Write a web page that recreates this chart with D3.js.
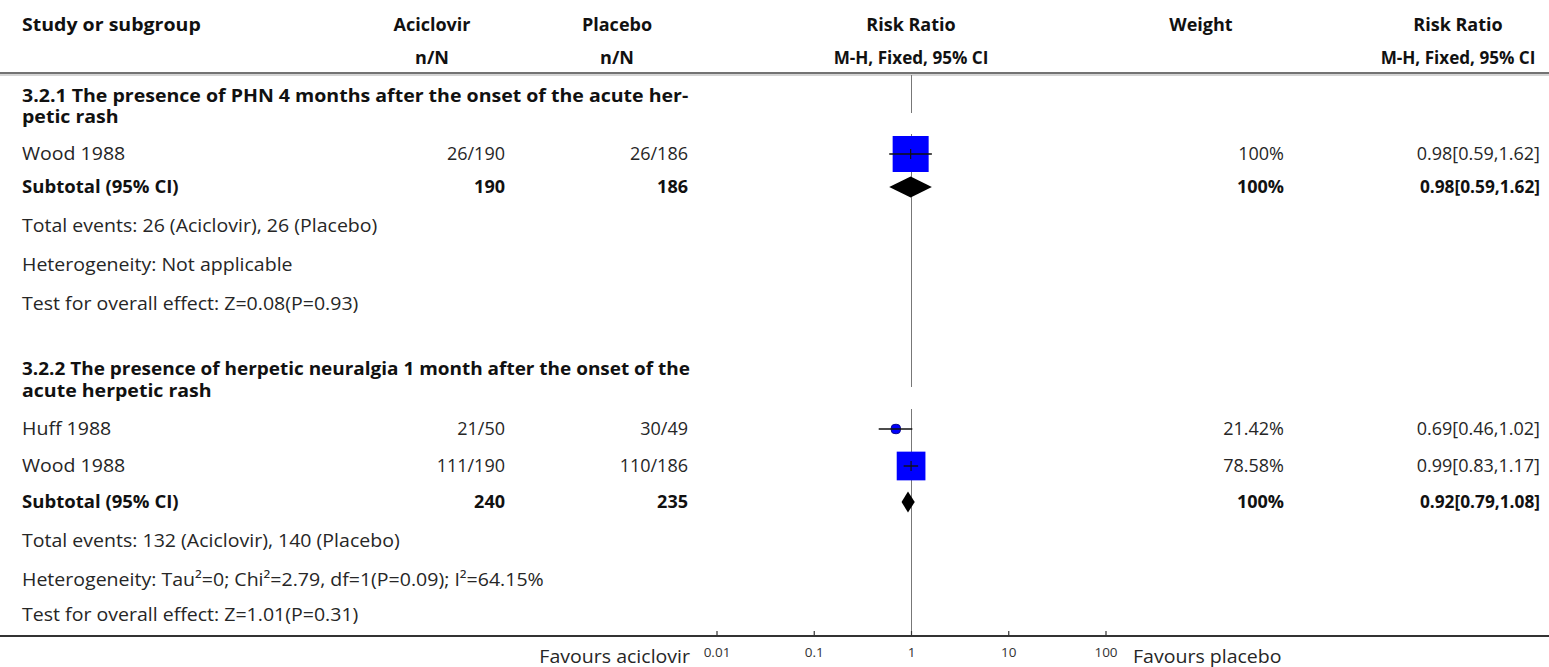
<!DOCTYPE html>
<html>
<head>
<meta charset="utf-8">
<script src="https://cdn.jsdelivr.net/npm/d3@7"></script>
<style>
  html, body { margin: 0; padding: 0; background: #fff; }
  svg { display: block; }
  text { font-family: "Open Sans", sans-serif; font-size: 18px; fill: #262626; }
  .b { font-weight: bold; fill: #111; }
</style>
</head>
<body>
<svg id="chart" width="1549" height="667"></svg>
<script>
// Column headings
const headTop = ["Study or subgroup", "Aciclovir", "Placebo", "Risk Ratio", "Weight", "Risk Ratio"];
const headSub = ["", "n/N", "n/N", "M-H, Fixed, 95% CI", "", "M-H, Fixed, 95% CI"];

// Subgroup titles (wrapped as in the table)
const groupTitles = [
  ["3.2.1 The presence of PHN 4 months after the onset of the acute her-", "petic rash"],
  ["3.2.2 The presence of herpetic neuralgia 1 month after the onset of the", "acute herpetic rash"]
];

// Individual studies
const studyGroup   = [0, 1, 1];
const studyNames   = ["Wood 1988", "Huff 1988", "Wood 1988"];
const aciEvents    = [26, 21, 111];
const aciTotal     = [190, 50, 190];
const plaEvents    = [26, 30, 110];
const plaTotal     = [186, 49, 186];
const studyRR      = [0.98, 0.69, 0.99];
const studyLo      = [0.59, 0.46, 0.83];
const studyHi      = [1.62, 1.02, 1.17];
const studyWeight  = [100, 21.42, 78.58];

// Subtotals per subgroup
const subAciTotal  = [190, 240];
const subPlaTotal  = [186, 235];
const subRR        = [0.98, 0.92];
const subLo        = [0.59, 0.79];
const subHi        = [1.62, 1.08];
const subWeight    = [100, 100];

// Summary notes under each subgroup
const groupNotes = [
  ["Total events: 26 (Aciclovir), 26 (Placebo)",
   "Heterogeneity: Not applicable",
   "Test for overall effect: Z=0.08(P=0.93)"],
  ["Total events: 132 (Aciclovir), 140 (Placebo)",
   "Heterogeneity: Tau\u00B2=0; Chi\u00B2=2.79, df=1(P=0.09); I\u00B2=64.15%",
   "Test for overall effect: Z=1.01(P=0.31)"]
];

// Axis
const axisTicks  = [0.01, 0.1, 1, 10, 100];
const favLeft    = "Favours aciclovir";
const favRight   = "Favours placebo";

// ---------------------------------------------------------------
const svg = d3.select("#chart");

// column anchors
const col = { study: 22, aciC: 432, aciR: 505, plaC: 617, plaR: 688, rrC: 911, wC: 1201, wR: 1284, ciC: 1458, ciR: 1540 };

const x = d3.scaleLog().domain([0.01, 100]).range([717, 1106]);
const boxSide = d3.scaleLinear().domain([0, 100]).range([2, 36]);

// vertical row layout
const rowY = {
  head1: 25, head2: 58, headLine: 73,
  groups: [
    { title: [96, 117], studies: [154], sub: 187, notes: [226, 265, 304] },
    { title: [369, 391], studies: [429, 466], sub: 502, notes: [541, 580, 615] }
  ],
  axis: 636
};

// label text is set slightly wider than the face's natural advance
const WIDE = 1.085;

function txt(xp, yp, s, anchor, cls, stretch, maxW) {
  const t = svg.append("text")
    .attr("x", xp).attr("y", yp).attr("dy", "0.35em")
    .attr("text-anchor", anchor || "start")
    .attr("class", cls || null)
    .text(s);
  if (stretch && stretch !== 1) {
    const w = t.node().getComputedTextLength();
    let target = w * stretch;
    if (maxW) target = Math.min(target, maxW);
    t.attr("textLength", target).attr("lengthAdjust", "spacingAndGlyphs");
  }
  return t;
}

// header
const headX = [col.study, col.aciC, col.plaC, col.rrC, col.wC, col.ciC];
headTop.forEach((h, i) => txt(headX[i], rowY.head1, h, i === 0 ? "start" : "middle", "b", i === 0 ? WIDE : 1));
headSub.forEach((h, i) => { if (h) txt(headX[i], rowY.head2, h, "middle", "b", h.length > 4 ? 0.95 : 1); });

svg.append("line").attr("x1", 0).attr("x2", 1549).attr("y1", rowY.headLine).attr("y2", rowY.headLine)
  .attr("stroke", "#444").attr("stroke-width", 1.6);
svg.append("line").attr("x1", 0).attr("x2", 1549).attr("y1", rowY.headLine + 2).attr("y2", rowY.headLine + 2)
  .attr("stroke", "#aaa").attr("stroke-width", 1);

// line of no effect, broken below each subgroup title
const nullX = x(1);
const segs = [];
let segStart = rowY.headLine + 2;
rowY.groups.forEach(g => {
  segs.push([segStart, g.title[1] - 4]);
  segStart = g.studies[0] - 20;
});
segs.push([segStart, rowY.axis]);
segs.forEach(s => {
  svg.append("line").attr("x1", nullX).attr("x2", nullX).attr("y1", s[0]).attr("y2", s[1])
    .attr("stroke", "#777").attr("stroke-width", 1);
});

// subgroup blocks; titles wrap within the study + count columns
const titleWidth = col.plaR + 2 - col.study;
groupTitles.forEach((lines, gi) => {
  const g = rowY.groups[gi];
  lines.forEach((l, li) => txt(col.study, g.title[li], l, "start", "b", WIDE, titleWidth));

  const idx = studyGroup.map((v, i) => v === gi ? i : -1).filter(i => i >= 0);
  idx.forEach((si, k) => {
    const y = g.studies[k];
    txt(col.study, y, studyNames[si], "start", null, WIDE);
    txt(col.aciR, y, `${aciEvents[si]}/${aciTotal[si]}`, "end");
    txt(col.plaR, y, `${plaEvents[si]}/${plaTotal[si]}`, "end");
    txt(col.wR, y, `${studyWeight[si]}%`, "end");
    txt(col.ciR, y, `${studyRR[si].toFixed(2)}[${studyLo[si].toFixed(2)},${studyHi[si].toFixed(2)}]`, "end");

    const side = boxSide(studyWeight[si]);
    const small = side < 12;
    svg.append("rect")
      .attr("x", x(studyRR[si]) - side / 2).attr("y", y - side / 2)
      .attr("width", side).attr("height", side)
      .attr("rx", small ? side / 2.5 : 0)
      .attr("fill", "#0000ff")
      .attr("stroke", small ? "#0a0a8a" : "none").attr("stroke-width", 1);
    svg.append("line").attr("x1", x(studyLo[si])).attr("x2", x(studyHi[si]))
      .attr("y1", y).attr("y2", y).attr("stroke", "#111").attr("stroke-width", 1.4);
    // centre tick of the estimate
    svg.append("line").attr("x1", x(studyRR[si])).attr("x2", x(studyRR[si]))
      .attr("y1", y - 5).attr("y2", y + 5).attr("stroke", "#111").attr("stroke-width", small ? 0 : 1.2);
  });

  // subtotal
  const ys = g.sub;
  txt(col.study, ys, "Subtotal (95% CI)", "start", "b", 1.03);
  txt(col.aciR, ys, subAciTotal[gi], "end", "b");
  txt(col.plaR, ys, subPlaTotal[gi], "end", "b");
  txt(col.wR, ys, `${subWeight[gi]}%`, "end", "b");
  txt(col.ciR, ys, `${subRR[gi].toFixed(2)}[${subLo[gi].toFixed(2)},${subHi[gi].toFixed(2)}]`, "end", "b", 0.96);
  const h = 10.5;
  svg.append("path")
    .attr("d", `M${x(subLo[gi])},${ys} L${x(subRR[gi])},${ys - h} L${x(subHi[gi])},${ys} L${x(subRR[gi])},${ys + h} Z`)
    .attr("fill", "#000");

  groupNotes[gi].forEach((n, ni) => txt(col.study, g.notes[ni], n, "start", null, WIDE));
});

// bottom axis
svg.append("line").attr("x1", 0).attr("x2", 1549).attr("y1", rowY.axis).attr("y2", rowY.axis)
  .attr("stroke", "#333").attr("stroke-width", 2);
const axisG = svg.append("g").attr("transform", `translate(0,${rowY.axis})`);
axisG.selectAll("line.tk").data(axisTicks).join("line")
  .attr("class", "tk")
  .attr("x1", d => x(d)).attr("x2", d => x(d)).attr("y1", 0).attr("y2", -5)
  .attr("stroke", "#333").attr("stroke-width", 1.2);
axisG.selectAll("text.tl").data(axisTicks).join("text")
  .attr("class", "tl")
  .attr("x", d => x(d)).attr("y", 16).attr("dy", "0.35em")
  .attr("text-anchor", "middle")
  .style("font-size", "13.5px").style("fill", "#333")
  .text(d => d3.format("~g")(d));

txt(690, rowY.axis + 21, favLeft, "end", null, WIDE);
txt(1133, rowY.axis + 21, favRight, "start", null, WIDE);
</script>
</body>
</html>
